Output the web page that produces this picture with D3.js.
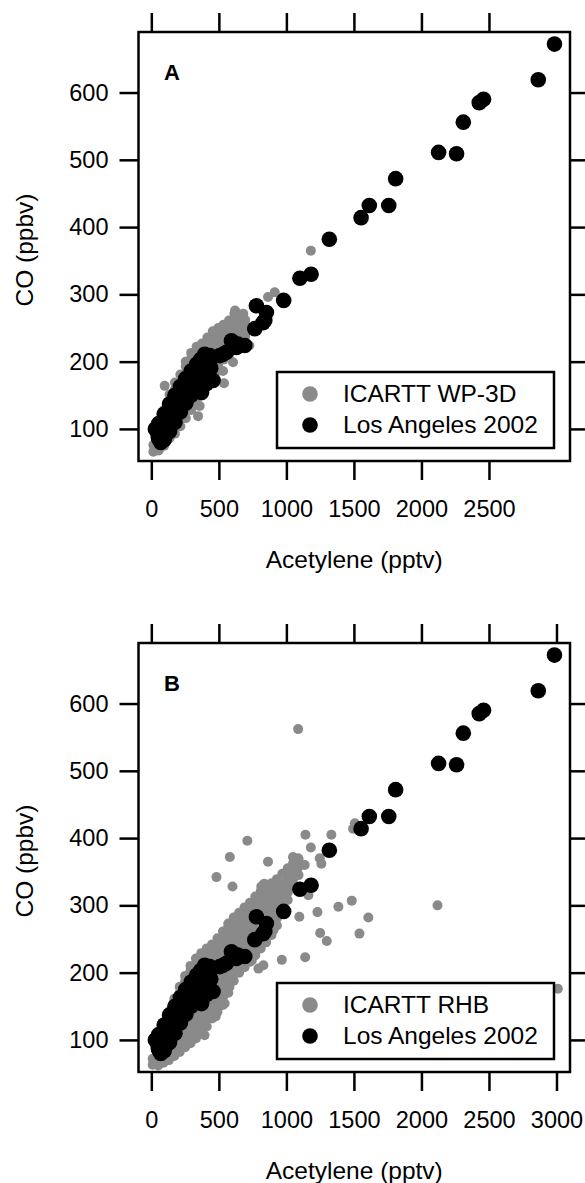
<!DOCTYPE html>
<html><head><meta charset="utf-8">
<script src="https://cdn.jsdelivr.net/npm/d3@7"></script>
<style>body{margin:0;background:#fff} svg{display:block} text{font-family:"Liberation Sans",Arial,Helvetica,sans-serif}</style>
</head><body><svg id="chart" width="585" height="1183"></svg>
<script>
// Los Angeles 2002 (acetylene pptv, CO ppbv)
const laPoints = [[2985,672],[2865,619],[2460,590],[2428,585],[2310,556],[2260,509],[2127,511],[1809,472],[1758,432],[1614,432],[1553,414],[1318,382],[1183,330],[1100,324],[980,291],[852,273],[778,283],[840,261],[827,258],[766,249],[692,224],[642,226],[630,221],[593,231],[556,214],[531,211],[507,209],[457,172],[444,206],[432,209],[432,194],[420,182],[407,167],[398,196],[373,186],[372,154],[336,182],[299,172],[299,157],[290,176],[262,162],[236,151],[225,152],[188,137],[181,131],[151,127],[136,117],[127,111],[120,112],[99,107],[100,91],[87,97],[80,88],[60,101],[60,92],[52,87],[37,100],[60,84]];
const laCluster = [[50,92],[90,103],[130,118],[170,133],[210,145],[250,158],[290,170],[330,180],[370,190],[400,198],[430,205],
[30,100],[55,108],[95,122],[135,137],[175,150],[215,163],[255,175],[295,186],[335,196],[365,203],[395,211],
[95,84],[135,96],[175,110],[215,125],[255,138],[295,150],[335,162],[375,172],[410,180],[440,190],[70,80],[110,92]];

// ICARTT WP-3D: columns of [acetylene, [CO values]]
const wp3dCols = [
[15,[66,76]],[55,[68,79,90,99]],[95,[75,86,97,108,119,128]],
[135,[86,97,108,119,130,141,151]],[175,[93,104,115,126,137,148,159,169]],
[215,[104,115,126,137,148,159,170,181]],[255,[116,127,138,149,160,171,182,193,200]],
[295,[128,139,150,161,172,183,194,205,213]],[335,[138,149,160,171,182,193,204,215,222]],
[375,[161,172,183,194,205,216,227]],[415,[171,182,193,204,215,226,236]],
[455,[183,194,205,216,227,238,245]],[495,[195,206,217,228,239,250]],
[535,[203,214,225,236,246,255]],[575,[210,220,231,242,253,261]],
[615,[218,228,239,250,261,271]],[655,[225,236,247,258,270]],[695,[238,252,262]]];
const wp3dExtra = [[1181,365],[914,303],[864,296],[99,164],[346,119],[358,134],[538,168],[605,199],[707,226],[726,224],[642,243],[531,186],[494,186],[620,276],[681,271]];

// ICARTT RHB
const rhbCols = [
[10,[63,72]],[50,[62,72,82,92]],[90,[66,77,88,98,108,117]],
[130,[70,81,92,103,114,125,134,142]],[170,[76,87,98,109,120,131,142,152,161]],
[210,[82,93,104,115,126,137,148,159,170,179]],[250,[89,100,111,122,133,144,155,166,177,187,195]],
[290,[95,106,117,128,139,150,161,172,183,194,203,210]],[330,[102,113,124,135,146,157,168,179,190,201,212,221]],
[370,[110,121,132,143,154,165,176,187,198,209,220,229]],[410,[120,131,142,153,164,175,186,197,208,219,229,236]],
[450,[132,143,154,165,176,187,198,209,220,231,242]],[490,[142,153,164,175,186,197,208,219,230,241,251]],
[530,[152,163,174,185,196,207,218,229,240,251,261]],[570,[170,181,192,203,214,225,236,247,258,268,273]],
[610,[188,199,210,221,232,243,254,265,275,282]],[650,[200,211,222,233,244,255,266,277,289]],
[690,[208,219,230,241,252,263,274,285,297]],[730,[216,227,238,249,260,271,282,293,304]],
[770,[226,237,248,259,270,281,292,303,313]],[810,[236,247,258,269,280,291,302,313,321]],
[850,[245,256,267,278,289,300,311,322,328]],[890,[256,267,278,289,300,311,322,333]],
[930,[270,281,292,303,314,325,339]],[970,[288,299,310,321,332,347]],
[1010,[308,319,330,341,355]],[1050,[328,339,350,363]],[1090,[345,357,369]]];
const rhbExtra = [[1087,562],[581,372],[711,396],[864,365],[1141,405],[1333,405],[1181,386],[1087,370],[1136,360],[1247,370],[1259,362],[1025,352],[1507,422],[1494,414],[482,342],[601,328],[828,330],[814,328],[836,332],[901,330],[988,347],[1021,337],[1163,315],[1385,298],[1484,307],[1607,282],[1230,290],[1096,283],[1250,259],[1299,247],[1541,258],[1139,223],[966,219],[830,211],[793,206],[744,218],[904,263],[2119,300],[3010,176],[579,179],[543,154],[477,135],[394,107],[27,67],[1049,372],[1035,347]];

const xTicksA = [0,500,1000,1500,2000,2500];
const xTicksB = [0,500,1000,1500,2000,2500,3000];
const yTicks = [100,200,300,400,500,600];
const panelLabels = ["A","B"];
const grayNames = ["ICARTT WP-3D","ICARTT RHB"];
const laName = "Los Angeles 2002";
const xTitle = "Acetylene (pptv)";
const yTitle = "CO (ppbv)";

const flat = cols => cols.flatMap(([a, cs]) => cs.map(c => [a, c]));
const grayA = flat(wp3dCols).concat(wp3dExtra);
const grayB = flat(rhbCols).concat(rhbExtra);
const blackPts = laPoints.concat(laCluster);

const svg = d3.select("#chart");
const L = 138.5, R = 570, H = 429;
const x = d3.scaleLinear().domain([-95, 3100]).range([L, R]);
const GRAY = "#8a8a8a", SW = 2.5;

function panel(top, label, grayName, grayPts, xTicks) {
  const g = svg.append("g");
  const y = d3.scaleLinear().domain([52.3, 690]).range([top + H, top]);
  const bottom = top + H;

  g.append("g").selectAll("circle").data(grayPts).join("circle")
    .attr("cx", d => x(d[0])).attr("cy", d => y(d[1])).attr("r", 5).attr("fill", GRAY);
  g.append("g").selectAll("circle").data(blackPts).join("circle")
    .attr("cx", d => x(d[0])).attr("cy", d => y(d[1])).attr("r", 7.8).attr("fill", "#000");

  const ax = [
    g.append("g").attr("transform", `translate(0,${bottom})`).call(d3.axisBottom(x).tickValues(xTicks).tickSize(19).tickFormat(d3.format("d"))),
    g.append("g").attr("transform", `translate(0,${top})`).call(d3.axisTop(x).tickValues(xTicks).tickSize(19).tickFormat("")),
    g.append("g").attr("transform", `translate(${L},0)`).call(d3.axisLeft(y).tickValues(yTicks).tickSize(19).tickPadding(11)),
    g.append("g").attr("transform", `translate(${R},0)`).call(d3.axisRight(y).tickValues(yTicks).tickSize(19).tickFormat(""))
  ];
  ax.forEach(a => {
    a.select(".domain").remove();
    a.selectAll("line").attr("stroke", "#000").attr("stroke-width", SW);
    a.selectAll("text").attr("font-size", 23.5).attr("fill", "#000").attr("font-family", '"Liberation Sans",Arial,sans-serif');
  });
  ax[0].selectAll("text").attr("y", 56).attr("dy", null);

  g.append("rect").attr("x", L).attr("y", top).attr("width", R - L).attr("height", H)
    .attr("fill", "none").attr("stroke", "#000").attr("stroke-width", SW);

  g.append("text").attr("x", 164).attr("y", top + 48).attr("font-size", 22).attr("font-weight", "bold").text(label);

  const lg = g.append("g");
  lg.append("rect").attr("x", 277).attr("y", top + 340).attr("width", 277).attr("height", 76)
    .attr("fill", "#fff").attr("stroke", "#000").attr("stroke-width", SW);
  lg.append("circle").attr("cx", 310).attr("cy", top + 362).attr("r", 7.8).attr("fill", GRAY);
  lg.append("circle").attr("cx", 310).attr("cy", top + 393).attr("r", 7.8).attr("fill", "#000");
  lg.append("text").attr("x", 343).attr("y", top + 370).attr("font-size", 24.5).text(grayName);
  lg.append("text").attr("x", 343).attr("y", top + 401).attr("font-size", 24.5).text(laName);

  g.append("text").attr("x", (L + R) / 2).attr("y", bottom + 107).attr("text-anchor", "middle")
    .attr("font-size", 24.5).text(xTitle);
  g.append("text").attr("transform", `translate(33,${top + 218}) rotate(-90)`).attr("text-anchor", "middle")
    .attr("font-size", 24.5).text(yTitle);
}

panel(32, panelLabels[0], grayNames[0], grayA, xTicksA);
panel(643, panelLabels[1], grayNames[1], grayB, xTicksB);
</script></body></html>
